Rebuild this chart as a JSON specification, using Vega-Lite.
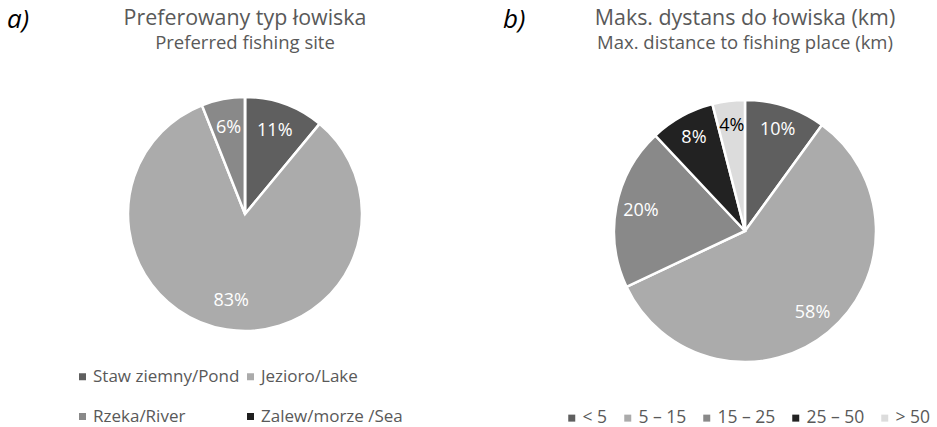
{
  "$schema": "https://vega.github.io/schema/vega-lite/v6.json",
  "padding": {"top": 7, "left": 0, "right": 0, "bottom": 0},
  "background": "white",
  "spacing": 13,
  "config": {
    "view": {"stroke": null},
    "font": "Open Sans",
    "title": {"font": "Open Sans", "fontSize": 21.4, "fontWeight": "normal", "color": "#595959", "subtitleFont": "Open Sans", "subtitleFontSize": 18.5, "subtitleColor": "#595959", "subtitlePadding": 4, "offset": 8, "anchor": "middle"},
    "legend": {"orient": "none", "title": null, "symbolType": "square", "symbolSize": 49, "symbolStrokeWidth": 0, "labelFontSize": 16, "labelColor": "#595959", "labelFont": "Open Sans", "labelOffset": 2, "padding": 0, "symbolOffset": 0},
    "concat": {"spacing": 0}
  },
  "hconcat": [
    {
      "title": {"text": "a)", "anchor": "start", "font": "Open Sans", "fontSize": 26, "fontStyle": "italic", "color": "black", "offset": -25, "dx": 7},
      "hconcat": [
        {
          "width": 490,
          "height": 308,
          "title": {"text": "Preferowany typ łowiska", "subtitle": "Preferred fishing site"},
          "data": {"values": [
            {"site": "Staw ziemny/Pond", "share": 0.11, "ord": 1},
            {"site": "Jezioro/Lake", "share": 0.83, "ord": 2},
            {"site": "Rzeka/River", "share": 0.06, "ord": 3},
            {"site": "Zalew/morze /Sea", "share": 0.0, "ord": 4}
          ]},
          "layer": [
            {
              "mark": {"type": "arc", "outerRadius": 117, "stroke": "white", "strokeWidth": 2.5},
              "encoding": {
                "theta": {"field": "share", "type": "quantitative", "stack": true},
                "order": {"field": "ord", "type": "quantitative"},
                "color": {"field": "site", "type": "nominal",
                  "scale": {"domain": ["Staw ziemny/Pond", "Jezioro/Lake", "Rzeka/River", "Zalew/morze /Sea"], "range": ["#5f5f5f", "#ababab", "#898989", "#1f1f1f"]},
                  "legend": {"legendX": 74, "legendY": 308, "direction": "horizontal", "columns": 2, "columnPadding": 2, "rowPadding": 22, "labelFontSize": 17}}
              }
            },
            {
              "transform": [{"filter": "datum.share > 0"}],
              "mark": {"type": "text", "radius": 88, "fontSize": 18, "fill": "white"},
              "encoding": {
                "theta": {"field": "share", "type": "quantitative", "stack": true},
                "order": {"field": "ord", "type": "quantitative"},
                "text": {"field": "share", "type": "quantitative", "format": ".0%"}
              }
            }
          ]
        }
      ]
    },
    {
      "title": {"text": "b)", "anchor": "start", "font": "Open Sans", "fontSize": 26, "fontStyle": "italic", "color": "black", "offset": -25, "dx": -50},
      "hconcat": [
        {
          "width": 384,
          "height": 342,
          "title": {"text": "Maks. dystans do łowiska (km)", "subtitle": "Max. distance to fishing place (km)"},
          "data": {"values": [
            {"dist": "< 5", "share": 0.10, "ord": 1},
            {"dist": "5 – 15", "share": 0.58, "ord": 2},
            {"dist": "15 – 25", "share": 0.20, "ord": 3},
            {"dist": "25 – 50", "share": 0.08, "ord": 4},
            {"dist": "> 50", "share": 0.04, "ord": 5}
          ]},
          "layer": [
            {
              "mark": {"type": "arc", "outerRadius": 131, "stroke": "white", "strokeWidth": 2.5},
              "encoding": {
                "theta": {"field": "share", "type": "quantitative", "stack": true},
                "order": {"field": "ord", "type": "quantitative"},
                "color": {"field": "dist", "type": "nominal",
                  "scale": {"domain": ["< 5", "5 – 15", "15 – 25", "25 – 50", "> 50"], "range": ["#5f5f5f", "#ababab", "#898989", "#222222", "#dcdcdc"]},
                  "legend": {"legendX": 10, "legendY": 349, "direction": "horizontal", "columns": 5, "gridAlign": "each", "columnPadding": 11, "labelFontSize": 17.5}}
              }
            },
            {
              "mark": {"type": "text", "radius": 106, "fontSize": 18},
              "encoding": {
                "theta": {"field": "share", "type": "quantitative", "stack": true},
                "order": {"field": "ord", "type": "quantitative"},
                "text": {"field": "share", "type": "quantitative", "format": ".0%"},
                "color": {"condition": {"test": "datum.dist === '> 50'", "value": "black"}, "value": "white"}
              }
            }
          ]
        }
      ]
    }
  ],
  "resolve": {"scale": {"color": "independent"}}
}
